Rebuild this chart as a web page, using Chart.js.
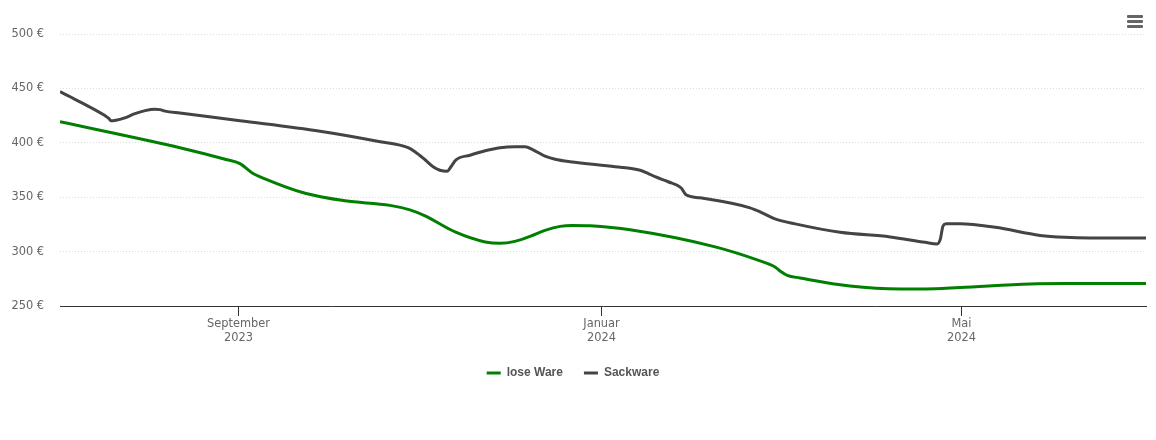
<!DOCTYPE html>
<html lang="de">
<head>
<meta charset="utf-8">
<title>Preisentwicklung</title>
<script src="https://cdn.jsdelivr.net/npm/chart.js@4"></script>
<style>
  html, body { margin: 0; padding: 0; background: #fff; }
  #wrap { position: relative; width: 1156px; height: 440px; }
  #menu { position: absolute; left: 1127px; top: 15px; width: 16px; }
  #menu span { display: block; height: 3px; margin-bottom: 2px; background: #666; border-radius: 1px; }
</style>
</head>
<body>
<div id="wrap">
  <canvas id="priceChart" width="1156" height="440"></canvas>
  <div id="menu"><span></span><span></span><span></span></div>
</div>
<script>
// x values are days since 2023-07-03
const looseName = "lose Ware";
const looseDays = [0, 40.3, 55.5, 60.5, 64.5, 68.9, 82.4, 95.8, 110.9, 117.6, 122.7, 132.8, 142.9, 147.9, 152.9, 158, 163, 168.1, 172.1, 178.2, 191.6, 220.2, 235.3, 240.3, 242, 244.4, 248.7, 265.5, 282.4, 290.8, 302.5, 326.1, 337.8, 365];
const loosePrices = [419.4, 395.5, 384.9, 380.8, 372.5, 366.9, 353.6, 346.7, 342.5, 338.4, 332.9, 318.1, 308.9, 307.6, 309.4, 314, 319.5, 323.2, 324.1, 323.7, 320, 304.3, 291.4, 285.9, 282.2, 278.1, 275.8, 268.4, 265.7, 265.7, 267, 270.3, 270.7, 270.7];

const sackName = "Sackware";
const sackDays = [0, 15.1, 16.5, 17.1, 18.8, 21.5, 25.2, 28.6, 31.9, 33.6, 35.3, 40.3, 60.5, 87.4, 107.6, 117, 119.3, 122.7, 125.4, 127.7, 130.1, 131.4, 133.1, 137.8, 142.9, 147.9, 152.9, 156.3, 159, 163, 166.4, 171.4, 186.6, 195, 197.6, 200, 204.4, 208.7, 210.4, 215.1, 231.9, 236, 240.3, 247.1, 262.2, 279, 290.8, 294.8, 295.8, 296.8, 297.8, 302.5, 314.3, 329.4, 337.8, 346.2, 365];
const sackPrices = [447, 425, 422.2, 420.3, 420.8, 422.7, 426.8, 429.6, 430.9, 430.5, 429.1, 427.3, 420.3, 410.7, 401, 395.5, 391.8, 384.4, 378, 374.8, 373.8, 378, 384.4, 388.6, 392.7, 395.5, 396.4, 396.4, 393.6, 387.7, 384.9, 382.6, 378, 374.8, 372, 368.8, 364.2, 358.7, 352.2, 349.4, 340.2, 335.6, 330.1, 325.5, 317.7, 313.5, 308.5, 307.1, 310.8, 323.7, 325.5, 325.5, 322.3, 314.9, 313.1, 312.6, 312.6];

const tickDays = [60, 182, 303];
const tickMonths = ["September", "Januar", "Mai"];
const tickYears = ["2023", "2024", "2024"];

function toPoints(days, prices) {
  return days.map((d, i) => ({ x: d, y: prices[i] }));
}

const fontFamily = '"DejaVu Sans", sans-serif';

new Chart(document.getElementById("priceChart").getContext("2d"), {
  type: "line",
  data: {
    datasets: [{
      label: looseName,
      data: toPoints(looseDays, loosePrices),
      borderColor: "#007f00",
      backgroundColor: "#007f00",
      borderWidth: 3,
      pointRadius: 0,
      cubicInterpolationMode: "monotone",
    }, {
      label: sackName,
      data: toPoints(sackDays, sackPrices),
      borderColor: "#434348",
      backgroundColor: "#434348",
      borderWidth: 3,
      pointRadius: 0,
      cubicInterpolationMode: "monotone",
    }],
  },
  options: {
    responsive: false,
    animation: false,
    layout: { padding: { top: 34, right: 10, bottom: 51, left: 0 } },
    scales: {
      x: {
        type: "linear",
        min: 0,
        max: 365,
        afterBuildTicks: (s) => { s.ticks = tickDays.map(v => ({ value: v })); },
        afterFit: (s) => { s.height = 40; },
        border: { color: "#333", width: 1 },
        grid: { drawOnChartArea: false, drawTicks: true, tickLength: 10, tickColor: "#333", tickWidth: 1 },
        ticks: {
          autoSkip: false,
          maxRotation: 0,
          padding: 1,
          color: "#666",
          font: { family: fontFamily, size: 11.4, lineHeight: 1.25 },
          callback: (v) => {
            const i = tickDays.indexOf(v);
            return i < 0 ? "" : [tickMonths[i], tickYears[i]];
          },
        },
      },
      y: {
        min: 250,
        max: 500,
        afterFit: (s) => { s.width = 60; },
        border: { display: false, dash: [1, 2] },
        grid: { color: "#dcdcdc", lineWidth: 1, drawTicks: false },
        ticks: {
          stepSize: 50,
          padding: 16,
          color: "#666",
          font: { family: fontFamily, size: 11.4 },
          callback: (v) => `${v} €`,
        },
      },
    },
    plugins: {
      tooltip: { enabled: false },
      legend: {
        position: "bottom",
        labels: {
          usePointStyle: true,
          pointStyle: "line",
          pointStyleWidth: 14,
          boxHeight: 12,
          padding: 21,
          color: "#555",
          font: { family: '"Liberation Sans", sans-serif', size: 12, weight: "bold" },
        },
      },
    },
  },
});
</script>
</body>
</html>
